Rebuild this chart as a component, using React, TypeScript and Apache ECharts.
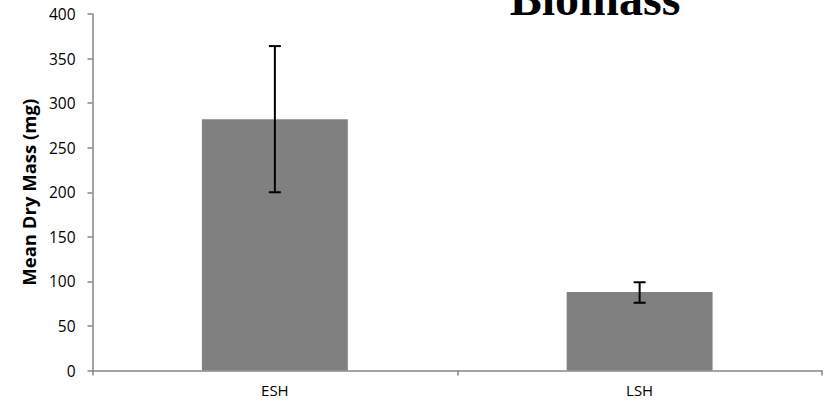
import React, { useEffect, useRef } from "react";
import * as echarts from "echarts";

// Mean dry mass per treatment, with the ends of each error bar
const categories = ["ESH", "LSH"];
const meanMass = [282, 88];
const errorUpper = [364, 99];
const errorLower = [200, 76];
const yTicks = { min: 0, max: 400, interval: 50 };

const titleText = "Biomass";
const yAxisName = "Mean Dry Mass (mg)";

export default function App() {
  const ref = useRef<HTMLDivElement>(null);

  useEffect(() => {
    if (!ref.current) return;
    const chart = echarts.init(ref.current, undefined, { renderer: "svg" });

    const errorData = categories.map((_, i) => [i, errorLower[i], errorUpper[i]]);

    chart.setOption({
      animation: false,
      backgroundColor: "#ffffff",
      title: {
        text: titleText,
        left: 590,
        top: -31,
        textAlign: "center",
        textStyle: {
          fontFamily: "Liberation Serif",
          fontWeight: "bold",
          fontSize: 48,
          color: "#000000",
        },
      },
      grid: { left: 92.5, right: 9, top: 14, bottom: 43.5, containLabel: false },
      xAxis: {
        type: "category",
        data: categories,
        axisLine: { lineStyle: { color: "#868686", width: 1.5 } },
        axisTick: { show: true, length: 5, lineStyle: { color: "#868686", width: 1.5 } },
        axisLabel: {
          margin: 12,
          fontFamily: "Open Sans",
          fontSize: 15,
          color: "#000000",
        },
      },
      yAxis: {
        type: "value",
        min: yTicks.min,
        max: yTicks.max,
        interval: yTicks.interval,
        name: yAxisName,
        nameLocation: "middle",
        nameGap: 55,
        nameTextStyle: {
          fontFamily: "Open Sans",
          fontWeight: "bold",
          fontSize: 18.5,
          color: "#000000",
        },
        splitLine: { show: false },
        axisLine: { show: true, lineStyle: { color: "#868686", width: 1.5 } },
        axisTick: { show: true, length: 5, lineStyle: { color: "#868686", width: 1.5 } },
        axisLabel: {
          margin: 17,
          fontFamily: "Open Sans",
          fontSize: 15.5,
          color: "#000000",
        },
      },
      series: [
        {
          type: "bar",
          data: meanMass,
          barWidth: "40%",
          itemStyle: { color: "#808080" },
        },
        {
          type: "custom",
          data: errorData,
          z: 10,
          renderItem: (_params: any, api: any) => {
            const x = api.value(0);
            const lo = api.coord([x, api.value(1)]);
            const hi = api.coord([x, api.value(2)]);
            const half = 6;
            const style = { stroke: "#000000", lineWidth: 2 };
            return {
              type: "group",
              children: [
                { type: "line", shape: { x1: hi[0], y1: hi[1], x2: lo[0], y2: lo[1] }, style },
                { type: "line", shape: { x1: hi[0] - half, y1: hi[1], x2: hi[0] + half, y2: hi[1] }, style },
                { type: "line", shape: { x1: lo[0] - half, y1: lo[1], x2: lo[0] + half, y2: lo[1] }, style },
              ],
            };
          },
        },
      ],
    });

    return () => chart.dispose();
  }, []);

  return (
    <div
      ref={ref}
      style={{ position: "fixed", left: 0, top: 0, width: 831, height: 414 }}
    />
  );
}
